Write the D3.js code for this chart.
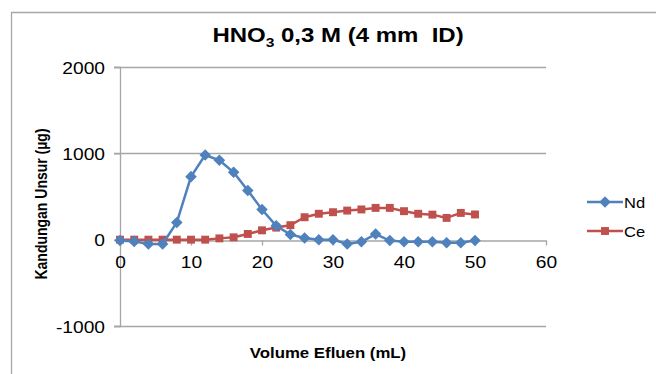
<!DOCTYPE html>
<html>
<head>
<meta charset="utf-8">
<script src="https://cdn.jsdelivr.net/npm/d3@7"></script>
<style>
  body { margin: 0; background: #fff; }
  svg { display: block; font-family: "Liberation Sans", Arial, sans-serif; }
</style>
</head>
<body>
<svg id="chart" width="656" height="374"></svg>
<script>
// data
const volume = [0, 2, 4, 6, 8, 10, 12, 14, 16, 18, 20, 22, 24, 26, 28, 30, 32, 34, 36, 38, 40, 42, 44, 46, 48, 50];
const nd = [-10, -20, -50, -50, 200, 730, 980, 920, 780, 570, 350, 160, 60, 20, 0, 0, -50, -25, 65, -10, -25, -25, -25, -35, -35, -10];
const ce = [0, 0, 0, 0, 0, 0, 0, 15, 27, 66, 108, 140, 168, 260, 300, 318, 337, 350, 368, 368, 330, 300, 290, 252, 310, 292];
const xTicks = [0, 10, 20, 30, 40, 50, 60];
const yTicks = [-1000, 0, 1000, 2000];

const seriesList = [
	{ name: 'Nd', values: nd, color: '#4F81BD', marker: 'diamond' },
	{ name: 'Ce', values: ce, color: '#C0504D', marker: 'square' }
];

// the reference text looks stretched sideways a bit
const SX = 1.2;
const GRID = '#a6a6a6';

const svg = d3.select('#chart');

const x = d3.scaleLinear().domain([0, 60]).range([120, 546]);
const y = d3.scaleLinear().domain([-1000, 2000]).range([326, 67]);

// outer frame (left + top edges visible)
svg.append('path')
	.attr('d', 'M11.5,374 V12.5 H656')
	.attr('fill', 'none')
	.attr('stroke', GRID)
	.attr('stroke-width', 1.3);

// title
const title = svg.append('text')
	.attr('transform', `translate(338,42) scale(${SX},1)`)
	.attr('text-anchor', 'middle')
	.attr('font-size', '20px')
	.attr('font-weight', 'bold')
	.attr('fill', '#000');
title.append('tspan').text('HNO');
title.append('tspan').attr('font-size', '13px').attr('dy', 5).text('3');
title.append('tspan').attr('dy', -5).text(' 0,3 M (4 mm\u00a0 ID)');

// horizontal gridlines
svg.append('g')
	.selectAll('line')
	.data(yTicks.filter((d) => d !== 0))
	.enter()
	.append('line')
	.attr('x1', 114)
	.attr('x2', x(60))
	.attr('y1', (d) => Math.round(y(d)) + 0.5)
	.attr('y2', (d) => Math.round(y(d)) + 0.5)
	.attr('stroke', GRID)
	.attr('stroke-width', 1.3);

// y axis
const yAxis = svg.append('g')
	.attr('transform', `translate(${x(0)},0)`)
	.call(d3.axisLeft(y).tickValues(yTicks).tickSize(6).tickFormat((d) => String(d)));
yAxis.select('.domain').attr('stroke', GRID).attr('stroke-width', 1.3);
yAxis.selectAll('.tick line').attr('stroke', GRID).attr('stroke-width', 1.3);
yAxis.selectAll('.tick text')
	.attr('x', null)
	.attr('dy', null)
	.attr('transform', `translate(-15,6) scale(${SX},1)`)
	.attr('font-size', '16px')
	.attr('font-family', '"Liberation Sans", Arial, sans-serif')
	.attr('fill', '#000');

// x axis crossing at zero
const xAxis = svg.append('g')
	.attr('transform', `translate(0,${Math.round(y(0)) + 0.5})`)
	.call(d3.axisBottom(x).tickValues(xTicks).tickSize(5).tickSizeOuter(0));
xAxis.select('.domain').attr('stroke', GRID).attr('stroke-width', 1.3);
xAxis.selectAll('.tick line').attr('stroke', GRID).attr('stroke-width', 1.3);
xAxis.selectAll('.tick text')
	.attr('y', null)
	.attr('dy', null)
	.attr('transform', `translate(0,27) scale(${SX},1)`)
	.attr('font-size', '16px')
	.attr('font-family', '"Liberation Sans", Arial, sans-serif')
	.attr('fill', '#000');

// axis titles
svg.append('text')
	.attr('transform', `translate(47,204) scale(${SX},1) rotate(-90)`)
	.attr('text-anchor', 'middle')
	.attr('font-size', '14px')
	.attr('font-weight', 'bold')
	.text('Kandungan Unsur (µg)');

svg.append('text')
	.attr('transform', `translate(328,358) scale(${SX},1)`)
	.attr('text-anchor', 'middle')
	.attr('font-size', '14px')
	.attr('font-weight', 'bold')
	.text('Volume Efluen (mL)');

const line = d3.line()
	.x((d, i) => x(volume[i]))
	.y((d) => y(d));

const diamond = d3.symbol().type(d3.symbolDiamond2).size(85);
const square = d3.symbol().type(d3.symbolSquare2).size(80);

// series: Ce drawn first, then Nd
[seriesList[1], seriesList[0]].forEach((s) => {
	const g = svg.append('g').attr('class', 'series-' + s.name);
	g.append('path')
		.datum(s.values)
		.attr('d', line)
		.attr('fill', 'none')
		.attr('stroke', s.color)
		.attr('stroke-width', 2.5)
		.attr('stroke-linejoin', 'round');
	g.selectAll('path.marker')
		.data(s.values)
		.enter()
		.append('path')
		.attr('class', 'marker')
		.attr('transform', (d, i) => `translate(${x(volume[i])},${y(d)})`)
		.attr('d', s.marker === 'diamond' ? diamond() : square())
		.attr('fill', s.color);
});

// legend
const legend = svg.append('g')
	.selectAll('g')
	.data(seriesList)
	.enter()
	.append('g')
	.attr('transform', (d, i) => `translate(587,${202 + i * 29})`);
legend.append('line')
	.attr('x1', 0)
	.attr('x2', 36)
	.attr('stroke', (d) => d.color)
	.attr('stroke-width', 2.5);
legend.append('path')
	.attr('transform', 'translate(18,0)')
	.attr('d', (d) => (d.marker === 'diamond' ? diamond() : square()))
	.attr('fill', (d) => d.color);
legend.append('text')
	.attr('transform', `translate(37,5.5) scale(1.1,1)`)
	.attr('font-size', '15px')
	.text((d) => d.name);
</script>
</body>
</html>
